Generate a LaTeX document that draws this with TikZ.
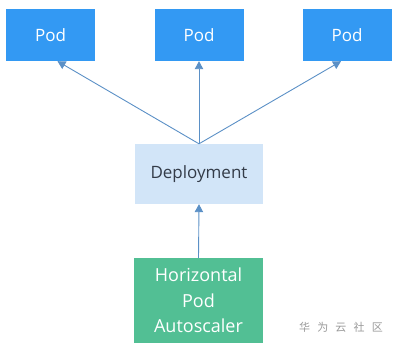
\documentclass[tikz,border=0pt]{standalone}
\usepackage{fontspec}
\setmainfont{Open Sans}
\newfontfamily\cjk{Noto Sans CJK SC}
\usetikzlibrary{arrows.meta}
\definecolor{podblue}{HTML}{3399F3}
\definecolor{deplight}{HTML}{D2E5F8}
\definecolor{hpagreen}{HTML}{52BF94}
\definecolor{arrowc}{HTML}{5B90C6}
\definecolor{deptext}{HTML}{333B48}
\tikzset{
  podbox/.style={fill=podblue, text=white, minimum width=89pt, minimum height=52pt, inner sep=0pt, font=\fontsize{17}{20}\selectfont},
  depbox/.style={fill=deplight, text=deptext, minimum width=128pt, minimum height=60pt, inner sep=0pt, font=\fontsize{17}{20}\selectfont},
  hpabox/.style={fill=hpagreen, text=white, minimum width=129pt, minimum height=85pt, inner sep=0pt, align=center, font=\fontsize{18}{25.5}\selectfont},
  conn/.style={draw=arrowc, line width=0.9pt, -{Triangle[length=8pt,width=8.5pt]}, arrowc}
}
\begin{document}
\begin{tikzpicture}[x=1pt,y=-1pt]
\useasboundingbox (0,0) rectangle (395,350);
\node[podbox] (p1) at (50.5,35) {Pod};
\node[podbox] (p2) at (199,35) {Pod};
\node[podbox] (p3) at (347,35) {Pod};
\node[depbox] (d) at (199,174) {Deployment};
\node[hpabox] (h) at (198.5,300.5) {Horizontal\\Pod\\Autoscaler};
\draw[conn] (d.north) -- ([xshift=7pt]p1.south);
\draw[conn] (d.north) -- (p2.south);
\draw[conn] (d.north) -- ([xshift=-6pt]p3.south);
\draw[conn] (h.north) -- (d.south);
\node[text=black!40, font=\cjk\fontsize{11}{13}\selectfont, anchor=center] (wm) at (341,327) {华\hspace{0.65em}为\hspace{0.65em}云\hspace{0.65em}社\hspace{0.65em}区};
\end{tikzpicture}
\end{document}
